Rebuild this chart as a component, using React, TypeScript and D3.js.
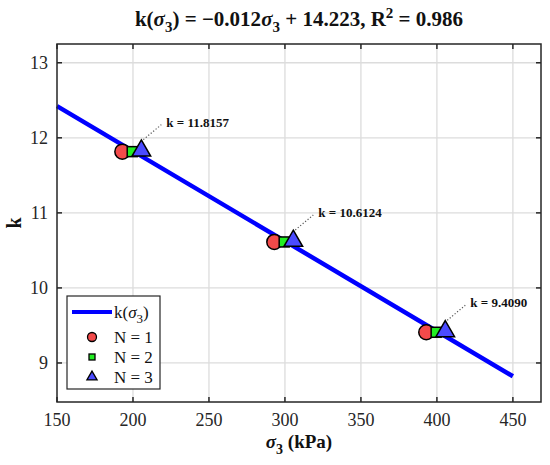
import React, { useEffect, useRef } from 'react';
import * as d3 from 'd3';

// fitted line k(σ3) = -0.012σ3 + 14.223
const fitSlope = -0.012;
const fitIntercept = 14.223;
const fitRange = [150, 450];

// measured points (the three N groups are drawn slightly offset)
const kValues = [11.8157, 10.6124, 9.409];
const kLabels = ['k = 11.8157', 'k = 10.6124', 'k = 9.4090'];
const sigmaN1 = [193, 293, 393];
const sigmaN2 = [199.5, 299.5, 399.5];
const sigmaN3 = [205.5, 305.5, 405.5];

const xTicks = [150, 200, 250, 300, 350, 400, 450];
const yTicks = [9, 10, 11, 12, 13];

const W = 550;
const H = 465;
const plot = { left: 57, right: 541, top: 44, bottom: 402 };
const FONT = "'Liberation Serif', Tinos, 'DejaVu Serif', serif";

const App: React.FC = () => {
  const svgRef = useRef<SVGSVGElement>(null);

  useEffect(() => {
    if (!svgRef.current) return;
    const svg = d3.select(svgRef.current);
    svg.selectAll('*').remove();

    const x = d3.scaleLinear().domain([150, 468.5]).range([plot.left, plot.right]);
    const y = d3.scaleLinear().domain([8.48, 13.25]).range([plot.bottom, plot.top]);

    svg.append('rect').attr('width', W).attr('height', H).attr('fill', '#fff');

    // grid
    const grid = svg.append('g').attr('stroke', '#dcdcdc').attr('stroke-width', 1.3);
    xTicks.filter(t => t > 150).forEach(t => {
      grid.append('line').attr('x1', x(t)).attr('x2', x(t)).attr('y1', plot.top).attr('y2', plot.bottom);
    });
    yTicks.forEach(t => {
      grid.append('line').attr('x1', plot.left).attr('x2', plot.right).attr('y1', y(t)).attr('y2', y(t));
    });

    // fitted line
    const line = d3.line<number>()
      .x(d => x(d))
      .y(d => y(fitSlope * d + fitIntercept));
    svg.append('path')
      .datum(fitRange)
      .attr('fill', 'none')
      .attr('stroke', '#0000ff')
      .attr('stroke-width', 4.5)
      .attr('d', line);

    // markers
    const tri = d3.symbol().type(d3.symbolTriangle).size(150);
    kValues.forEach((k, i) => {
      svg.append('circle')
        .attr('cx', x(sigmaN1[i])).attr('cy', y(k)).attr('r', 7.5)
        .attr('fill', '#f24a4a').attr('stroke', '#000').attr('stroke-width', 1.5);
      svg.append('rect')
        .attr('x', x(sigmaN2[i]) - 5).attr('y', y(k) - 5).attr('width', 10).attr('height', 10)
        .attr('fill', '#22ee22').attr('stroke', '#000').attr('stroke-width', 1.5);
      svg.append('path')
        .attr('d', tri)
        .attr('transform', `translate(${x(sigmaN3[i])},${y(k) - 1})`)
        .attr('fill', '#4b4bff').attr('stroke', '#000').attr('stroke-width', 1.5);

      // annotation
      const tx = x(sigmaN3[i]);
      const ty = y(k);
      svg.append('line')
        .attr('x1', tx + 2).attr('y1', ty - 12)
        .attr('x2', tx + 20).attr('y2', ty - 27)
        .attr('stroke', '#555').attr('stroke-width', 1.2)
        .attr('stroke-dasharray', '1.2 2');
      svg.append('text')
        .attr('x', tx + 25).attr('y', ty - 25)
        .style('font-family', FONT).attr('font-size', 13).attr('font-weight', 'bold')
        .attr('fill', '#111')
        .text(kLabels[i]);
    });

    // axes box + inward ticks
    const axis = svg.append('g').attr('stroke', '#262626').attr('stroke-width', 1.5);
    axis.append('rect')
      .attr('x', plot.left).attr('y', plot.top)
      .attr('width', plot.right - plot.left).attr('height', plot.bottom - plot.top)
      .attr('fill', 'none');
    xTicks.forEach(t => {
      axis.append('line').attr('x1', x(t)).attr('x2', x(t)).attr('y1', plot.bottom).attr('y2', plot.bottom - 5);
      axis.append('line').attr('x1', x(t)).attr('x2', x(t)).attr('y1', plot.top).attr('y2', plot.top + 5);
    });
    yTicks.forEach(t => {
      axis.append('line').attr('x1', plot.left).attr('x2', plot.left + 5).attr('y1', y(t)).attr('y2', y(t));
      axis.append('line').attr('x1', plot.right).attr('x2', plot.right - 5).attr('y1', y(t)).attr('y2', y(t));
    });

    // tick labels
    svg.append('g').selectAll('text').data(xTicks).enter().append('text')
      .attr('x', d => x(d)).attr('y', 426)
      .attr('text-anchor', 'middle')
      .style('font-family', FONT).attr('font-size', 18).attr('fill', '#262626')
      .text(d => d);
    svg.append('g').selectAll('text').data(yTicks).enter().append('text')
      .attr('x', 48).attr('y', d => y(d) + 6)
      .attr('text-anchor', 'end')
      .style('font-family', FONT).attr('font-size', 18).attr('fill', '#262626')
      .text(d => d);

    // axis labels
    const xl = svg.append('text')
      .attr('x', (plot.left + plot.right) / 2).attr('y', 448)
      .attr('text-anchor', 'middle')
      .style('font-family', FONT).attr('font-size', 19).attr('font-weight', 'bold').attr('fill', '#111');
    xl.append('tspan').attr('font-style', 'italic').text('σ');
    xl.append('tspan').attr('dy', 6).attr('font-size', 14).text('3');
    xl.append('tspan').attr('dy', -6).text(' (kPa)');

    svg.append('text')
      .attr('transform', `translate(21,${(plot.top + plot.bottom) / 2}) rotate(-90)`)
      .attr('text-anchor', 'middle')
      .style('font-family', FONT).attr('font-size', 20).attr('font-weight', 'bold').attr('fill', '#111')
      .text('k');

    // title
    const title = svg.append('text')
      .attr('x', (plot.left + plot.right) / 2).attr('y', 26)
      .attr('text-anchor', 'middle')
      .style('font-family', FONT).attr('font-size', 21).attr('font-weight', 'bold').attr('fill', '#111');
    title.append('tspan').text('k(');
    title.append('tspan').attr('font-style', 'italic').text('σ');
    title.append('tspan').attr('dy', 6).attr('font-size', 15).text('3');
    title.append('tspan').attr('dy', -6).text(') = −0.012');
    title.append('tspan').attr('font-style', 'italic').text('σ');
    title.append('tspan').attr('dy', 6).attr('font-size', 15).text('3');
    title.append('tspan').attr('dy', -6).text(' + 14.223, R');
    title.append('tspan').attr('dy', -8).attr('font-size', 15).text('2');
    title.append('tspan').attr('dy', 8).text(' = 0.986');

    // legend
    const lg = svg.append('g');
    lg.append('rect')
      .attr('x', 67).attr('y', 296).attr('width', 93).attr('height', 93)
      .attr('fill', '#fff').attr('stroke', '#262626').attr('stroke-width', 1.2);
    lg.append('line')
      .attr('x1', 72).attr('x2', 112).attr('y1', 312).attr('y2', 312)
      .attr('stroke', '#0000ff').attr('stroke-width', 4);
    const lt = lg.append('text')
      .attr('x', 114).attr('y', 318)
      .style('font-family', FONT).attr('font-size', 17).attr('fill', '#111');
    lt.append('tspan').text('k(');
    lt.append('tspan').attr('font-style', 'italic').text('σ');
    lt.append('tspan').attr('dy', 5).attr('font-size', 13).text('3');
    lt.append('tspan').attr('dy', -5).text(')');

    const rows = [337, 357, 377];
    lg.append('circle').attr('cx', 92).attr('cy', rows[0]).attr('r', 4.5)
      .attr('fill', '#f24a4a').attr('stroke', '#000').attr('stroke-width', 1.3);
    lg.append('rect').attr('x', 89).attr('y', rows[1] - 3).attr('width', 6).attr('height', 6)
      .attr('fill', '#22ee22').attr('stroke', '#000').attr('stroke-width', 1.3);
    lg.append('path').attr('d', d3.symbol().type(d3.symbolTriangle).size(45))
      .attr('transform', `translate(92,${rows[2]})`)
      .attr('fill', '#4b4bff').attr('stroke', '#000').attr('stroke-width', 1.3);
    ['N = 1', 'N = 2', 'N = 3'].forEach((s, i) => {
      lg.append('text')
        .attr('x', 114).attr('y', rows[i] + 6)
        .style('font-family', FONT).attr('font-size', 17).attr('fill', '#111')
        .text(s);
    });
  }, []);

  return (
    <div style={{ position: 'absolute', left: 0, top: 0, width: W, height: H }}>
      <svg ref={svgRef} width={W} height={H} viewBox={`0 0 ${W} ${H}`} style={{ display: 'block' }} />
    </div>
  );
};

export default App;
